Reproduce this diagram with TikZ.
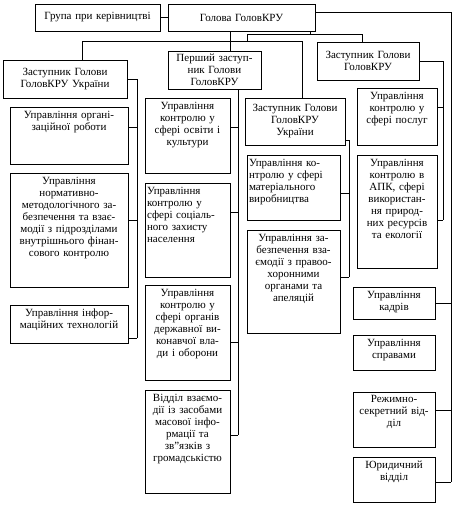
\documentclass[tikz,border=0pt]{standalone}
\usepackage{fontspec}
\setmainfont{Liberation Serif}
\usetikzlibrary{fit,calc}
\tikzset{
  boxst/.style={draw, line width=0.9pt, inner sep=0pt},
  txtst/.style={inner sep=0pt, font=\fontsize{11}{12}\selectfont},
  ln/.style={line width=0.7pt},
}
\newcommand\bxt[7]{%
  \node[boxst, fit={(#2,#3) (#4,#5)}] (#1) {};
  \pgfmathsetmacro\tw{#4-#2-4}
  \node[txtst, anchor=north, text width=\tw pt, align=#6] (#1t) at ([yshift=-4pt]#1.north) {#7};
}
\newcommand\bxc[7]{%
  \node[boxst, fit={(#2,#3) (#4,#5)}] (#1) {};
  \pgfmathsetmacro\tw{#4-#2-4}
  \node[txtst, anchor=center, text width=\tw pt, align=#6] (#1t) at (#1.center) {#7};
}
\begin{document}
\begin{tikzpicture}[x=1pt,y=-1pt]
\useasboundingbox (0,0) rectangle (460,507);
\fill[white] (0,0) rectangle (460,507);
% top
\bxc{grp}{35}{4}{160}{31}{center}{Група при керівництві}
\bxc{head}{168}{4}{315}{31}{center}{Голова ГоловКРУ}
% deputies
\bxc{dep1}{3}{60}{127}{98}{center}{Заступник Голови\\ГоловКРУ України}
\bxc{fdep}{168}{51}{261}{89}{center}{Перший заступ-\\ник Голови\\ГоловКРУ}
\bxc{dep3}{245}{98}{345}{145}{center}{Заступник Голови\\ГоловКРУ\\України}
\bxc{dep2}{317}{42}{419}{80}{center}{Заступник Голови\\ГоловКРУ}
% left column
\bxt{org}{10}{107}{128}{164}{center}{Управління органі-\\заційної роботи}
\bxt{norm}{10}{173}{128}{287}{center}{Управління\\нормативно-\\методологічного за-\\безпечення та взає-\\модії з підрозділами\\внутрішнього фінан-\\сового контролю}
\bxt{it}{10}{305}{128}{343}{center}{Управління інфор-\\маційних технологій}
% first deputy column
\bxt{osv}{145}{98}{230}{173}{center}{Управління\\контролю у\\сфері освіти і\\культури}
\bxt{soc}{145}{183}{230}{277}{left}{Управління\\контролю у\\сфері соціаль-\\ного захисту\\населення}
\bxt{org2}{145}{285}{230}{380}{center}{Управління\\контролю у\\сфері органів\\державної ви-\\конавчої вла-\\ди і оборони}
\bxt{media}{145}{390}{230}{493}{center}{Відділ взаємо-\\дії із засобами\\масової інфо-\\рмації та\\зв"язків з\\громадськістю}
% middle column
\bxt{mat}{247}{155}{340}{220}{left}{Управління ко-\\нтролю у сфері\\матеріального\\виробництва}
\bxt{law}{247}{230}{340}{333}{center}{Управління за-\\безпечення вза-\\ємодії з правоо-\\хоронними\\органами та\\апеляцій}
% right column
\bxt{serv}{357}{88}{437}{145}{center}{Управління\\контролю у\\сфері послуг}
\bxt{apk}{357}{155}{437}{268}{center}{Управління\\контролю в\\АПК, сфері\\використан-\\ня природ-\\них ресурсів\\та екології}
\bxt{kadr}{353}{287}{435}{319}{center}{Управління\\кадрів}
\bxt{sprav}{353}{335}{435}{370}{center}{Управління\\справами}
\bxt{rezh}{353}{392}{435}{447}{center}{Режимно-\\секретний від-\\діл}
\bxt{yur}{353}{457}{435}{502}{center}{Юридичний\\відділ}
% bus coordinates
\coordinate (busL) at (137,0);
\coordinate (busF) at (238,0);
\coordinate (busM) at (349,0);
\coordinate (busR) at (443,0);
\coordinate (busH) at (451,0);
\coordinate (hA) at (247,34);
\coordinate (hB) at (247,41);
\coordinate (jT) at (310,34);
\coordinate (j2) at (362,34);
\coordinate (jL) at (82,41);
\coordinate (jR) at (302,41);
% top connectors
\draw[ln] (grp.east) -- (head.west);
\draw[ln] (head.south -| 230,0) -- (fdep.north -| 230,0);
\draw[ln] (head.south -| jT) -- (jT);
\draw[ln] (hA) -- (j2) -- (dep2.north -| j2);
\draw[ln] (hA) -- (hB);
\draw[ln] (jL) -- (jR);
\draw[ln] (jL) -- (dep1.north -| jL);
\draw[ln] (jR) -- (dep3.north -| jR);
% left bus
\draw[ln] (dep1.east) -| (busL |- 0,338);
\draw[ln] (org.east |- 0,127) -- (busL |- 0,127);
\draw[ln] (norm.east |- 0,220) -- (busL |- 0,220);
\draw[ln] (it.east |- 0,338) -- (busL |- 0,338);
% first deputy bus
\draw[ln] (fdep.south -| busF) -- (busF |- 0,435);
\draw[ln] (osv.east |- 0,127) -- (busF |- 0,127);
\draw[ln] (soc.east |- 0,212) -- (busF |- 0,212);
\draw[ln] (org2.east |- 0,342) -- (busF |- 0,342);
\draw[ln] (media.east |- 0,435) -- (busF |- 0,435);
% middle bus
\draw[ln] (dep3.east |- 0,140) -| (busM |- 0,277);
\draw[ln] (mat.east |- 0,193) -- (busM |- 0,193);
\draw[ln] (law.east |- 0,277) -- (busM |- 0,277);
% right deputy bus
\draw[ln] (dep2.east) -| (busR |- 0,220);
\draw[ln] (serv.east |- 0,107) -- (busR |- 0,107);
\draw[ln] (apk.east |- 0,220) -- (busR |- 0,220);
% head right bus
\draw[ln] (head.east |- 0,12) -| (busH |- 0,482);
\draw[ln] (kadr.east |- 0,303) -- (busH |- 0,303);
\draw[ln] (rezh.east |- 0,410) -- (busH |- 0,410);
\draw[ln] (yur.east |- 0,482) -- (busH |- 0,482);
\end{tikzpicture}
\end{document}
